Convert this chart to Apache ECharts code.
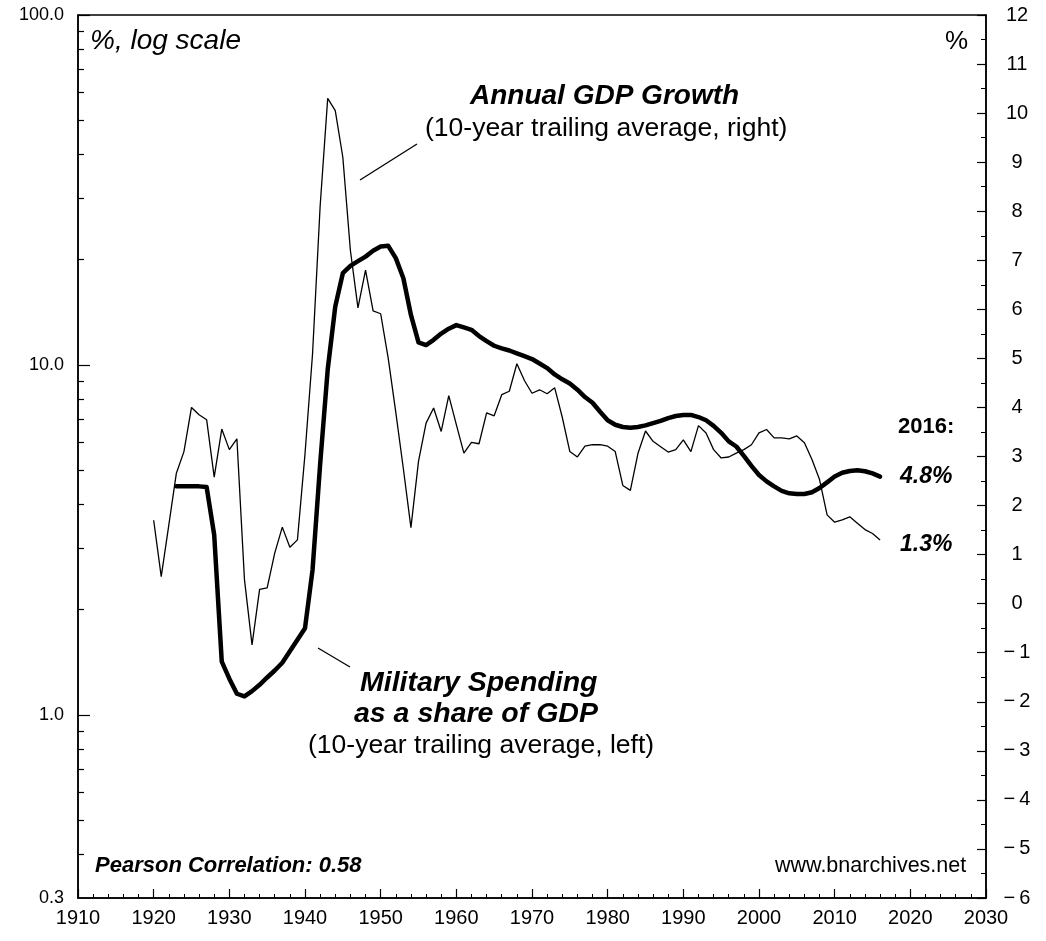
<!DOCTYPE html>
<html>
<head>
<meta charset="utf-8">
<title>Military Spending vs GDP Growth</title>
<script src="https://cdn.jsdelivr.net/npm/echarts@6.0.0/dist/echarts.min.js"></script>
<style>
  html, body { margin: 0; padding: 0; background: #fff; }
  #chart { width: 1046px; height: 941px; }
</style>
</head>
<body>
<div id="chart"></div>
<script>
// Annual GDP growth, 10-year trailing average (%, right axis), 1920-2016
const gdpStart = 1920;
const gdpGrowth = [
  1.7, 0.55, 1.6, 2.66, 3.1, 4.0, 3.85, 3.75, 2.58, 3.56,
  3.14, 3.36, 0.49, -0.84, 0.29, 0.32, 1.03, 1.56, 1.15, 1.3,
  3.05, 5.1, 8.1, 10.3, 10.05, 9.1, 7.2, 6.03, 6.8, 5.97,
  5.91, 5.0, 3.9, 2.75, 1.55, 2.9, 3.68, 3.99, 3.51, 4.24,
  3.65, 3.07, 3.29, 3.26, 3.89, 3.83, 4.26, 4.33, 4.89, 4.55,
  4.29, 4.36, 4.28, 4.4, 3.8, 3.1, 2.99, 3.21, 3.24, 3.24,
  3.21, 3.1, 2.41, 2.31, 3.06, 3.52, 3.31, 3.2, 3.09, 3.14,
  3.34, 3.1, 3.63, 3.48, 3.14, 2.97, 2.99, 3.07, 3.14, 3.24,
  3.48, 3.55, 3.38, 3.38, 3.36, 3.42, 3.28, 2.94, 2.53, 1.81,
  1.66, 1.71, 1.77, 1.64, 1.51, 1.43, 1.3
];

// Military spending as share of GDP, 10-year trailing average (%, left log axis), 1923-2016
const milStart = 1923;
const milShare = [
  4.5, 4.5, 4.5, 4.5, 4.48, 3.27, 1.42,
  1.27, 1.15, 1.13, 1.17, 1.22, 1.28, 1.34, 1.41, 1.52, 1.64,
  1.77, 2.6, 5.2, 9.7, 14.7, 18.3, 19.2, 19.8, 20.4, 21.2,
  21.8, 21.9, 20.2, 17.7, 13.9, 11.6, 11.4, 11.8, 12.3, 12.7,
  13.0, 12.8, 12.6, 12.1, 11.7, 11.35, 11.15, 11.0, 10.8, 10.6,
  10.4, 10.1, 9.8, 9.4, 9.1, 8.85, 8.5, 8.1, 7.8, 7.35,
  6.95, 6.75, 6.65, 6.62, 6.65, 6.72, 6.82, 6.92, 7.05, 7.15,
  7.2, 7.2, 7.1, 6.95, 6.7, 6.4, 6.05, 5.85, 5.5, 5.15,
  4.85, 4.65, 4.5, 4.37, 4.3, 4.28, 4.28, 4.33, 4.45, 4.62,
  4.8, 4.92, 4.98, 5.0, 4.97, 4.9, 4.8
];

// left (log) axis labels and ticks
const logLabels = [0.3, 1, 10, 100];
const logMajorTicks = [1, 10, 100];
const logMinorTicks = [0.4, 0.5, 0.6, 0.7, 0.8, 0.9, 2, 3, 4, 5, 6, 7, 8, 9,
  20, 30, 40, 50, 60, 70, 80, 90];

const FONT = "'Liberation Sans', Arial, Helvetica, sans-serif";

const toPairs = (start, arr) => arr.map((v, i) => [start + i, v]);

const chart = echarts.init(document.getElementById('chart'), null, { renderer: 'canvas' });

const axisLine = { show: true, onZero: false, lineStyle: { color: '#000', width: 1.5 } };

const option = {
  backgroundColor: '#fff',
  animation: false,
  grid: {
    left: 78, right: 60, top: 15, bottom: 43,
    show: true, borderColor: '#000', borderWidth: 1.5
  },
  xAxis: {
    type: 'value', min: 1910, max: 2030, interval: 10,
    axisLine: axisLine,
    axisTick: { inside: true, length: 9, lineStyle: { color: '#000', width: 1.2 } },
    minorTick: { show: true, splitNumber: 5, length: 4, lineStyle: { color: '#000', width: 1 } },
    splitLine: { show: false },
    axisLabel: { color: '#000', fontFamily: FONT, fontSize: 20, margin: 10,
      formatter: v => String(v) }
  },
  yAxis: [
    {
      type: 'log', logBase: 10, min: 0.3, max: 100, position: 'left',
      axisLine: axisLine,
      axisTick: { inside: true, length: 12, customValues: logMajorTicks,
        lineStyle: { color: '#000', width: 1.2 } },
      splitLine: { show: false },
      axisLabel: {
        customValues: logLabels, color: '#000', fontFamily: FONT, fontSize: 18, margin: 14,
        formatter: v => Number(v).toFixed(1)
      }
    },
    {
      // minor log ticks only
      type: 'log', logBase: 10, min: 0.3, max: 100, position: 'left',
      axisLine: { show: false },
      axisTick: { inside: true, length: 6, customValues: logMinorTicks,
        lineStyle: { color: '#000', width: 1.2 } },
      axisLabel: { show: false },
      splitLine: { show: false }
    },
    {
      type: 'value', min: -6, max: 12, interval: 1, position: 'right',
      axisLine: axisLine,
      axisTick: { inside: true, length: 9, lineStyle: { color: '#000', width: 1.2 } },
      minorTick: { show: true, splitNumber: 2, length: 5, lineStyle: { color: '#000', width: 1 } },
      splitLine: { show: false },
      axisLabel: {
        color: '#000', fontFamily: FONT, fontSize: 20, margin: 31, align: 'center',
        formatter: v => (v < 0 ? '\u2212\u2009' + Math.abs(v) : String(v))
      }
    }
  ],
  series: [
    {
      name: 'Annual GDP Growth', type: 'line', yAxisIndex: 2,
      data: toPairs(gdpStart, gdpGrowth),
      symbol: 'none', lineStyle: { color: '#000', width: 1.3 }
    },
    {
      name: 'Military Spending', type: 'line', yAxisIndex: 0,
      data: toPairs(milStart, milShare),
      symbol: 'none', lineStyle: { color: '#000', width: 4.5, join: 'round', cap: 'round' }
    }
  ],
  graphic: [
    { type: 'text', left: 90, top: 27,
      style: { text: '%, log scale', font: `italic 28px ${FONT}`, fill: '#000' } },
    { type: 'text', left: 945, top: 29,
      style: { text: '%', font: `26px ${FONT}`, fill: '#000' } },
    { type: 'text', left: 470, top: 82,
      style: { text: 'Annual GDP Growth', font: `italic bold 28px ${FONT}`, fill: '#000' } },
    { type: 'text', left: 425, top: 115,
      style: { text: '(10-year trailing average, right)', font: `26.5px ${FONT}`, fill: '#000' } },
    { type: 'line', shape: { x1: 360, y1: 180, x2: 417, y2: 144 },
      style: { stroke: '#000', lineWidth: 1.3 } },
    { type: 'text', left: 360, top: 669,
      style: { text: 'Military Spending', font: `italic bold 28.5px ${FONT}`, fill: '#000' } },
    { type: 'text', left: 354, top: 700,
      style: { text: 'as a share of GDP', font: `italic bold 28.5px ${FONT}`, fill: '#000' } },
    { type: 'text', left: 308, top: 732,
      style: { text: '(10-year trailing average, left)', font: `26.5px ${FONT}`, fill: '#000' } },
    { type: 'line', shape: { x1: 318, y1: 648, x2: 350, y2: 667 },
      style: { stroke: '#000', lineWidth: 1.3 } },
    { type: 'text', left: 95, top: 855,
      style: { text: 'Pearson Correlation: 0.58', font: `italic bold 22px ${FONT}`, fill: '#000' } },
    { type: 'text', left: 775, top: 855,
      style: { text: 'www.bnarchives.net', font: `21.5px ${FONT}`, fill: '#000' } },
    { type: 'text', left: 898, top: 416,
      style: { text: '2016:', font: `bold 22px ${FONT}`, fill: '#000' } },
    { type: 'text', left: 900, top: 465,
      style: { text: '4.8%', font: `italic bold 23px ${FONT}`, fill: '#000' } },
    { type: 'text', left: 900, top: 533,
      style: { text: '1.3%', font: `italic bold 23px ${FONT}`, fill: '#000' } }
  ]
};

chart.setOption(option);
window.addEventListener('resize', () => chart.resize());
</script>
</body>
</html>
